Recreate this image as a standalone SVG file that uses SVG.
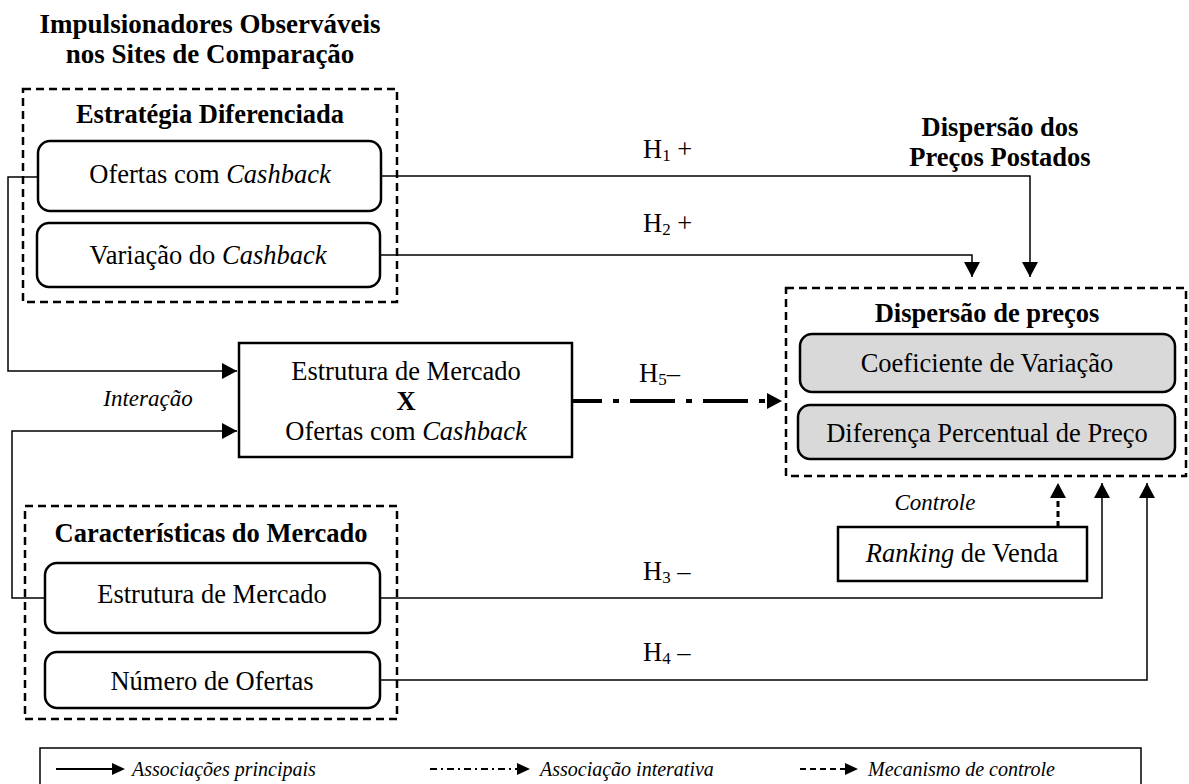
<svg xmlns="http://www.w3.org/2000/svg" width="1189" height="784" viewBox="0 0 1189 784">
<style>
text{font-family:"Liberation Serif","Times New Roman",serif;fill:#000}
.t{font-size:26.5px}
.b{font-weight:bold}
.i{font-style:italic}
.c{text-anchor:middle}
.lab{font-size:23px;font-style:italic}
.leg{font-size:20px;font-style:italic}
.grp{fill:none;stroke:#000;stroke-width:2.5;stroke-dasharray:8 5}
.rr{fill:#fff;stroke:#000;stroke-width:2.5}
.gray{fill:#d9d9d9;stroke:#000;stroke-width:2.5}
.sq{fill:#fff;stroke:#000;stroke-width:2.5}
.ln{fill:none;stroke:#000;stroke-width:1.5}
.dd{fill:none;stroke:#000;stroke-width:4;stroke-dasharray:45 11 6 11;stroke-dashoffset:15}
.dsh{fill:none;stroke:#000;stroke-width:3;stroke-dasharray:6 4}
</style>
<defs>
<marker id="ah" markerUnits="userSpaceOnUse" markerWidth="15" markerHeight="16" refX="15" refY="8" orient="auto"><path d="M0,0 L15,8 L0,16 z" fill="#000"/></marker>
<marker id="ahb" markerUnits="userSpaceOnUse" markerWidth="15" markerHeight="16" refX="0" refY="8" orient="auto"><path d="M0,0 L15,8 L0,16 z" fill="#000"/></marker>
<marker id="ahs" markerUnits="userSpaceOnUse" markerWidth="13" markerHeight="12" refX="0" refY="6" orient="auto"><path d="M0,0 L13,6 L0,12 z" fill="#000"/></marker>
</defs>

<g id="titulo">
<text class="t b c" x="210" y="33" style="font-size:27px">Impulsionadores Observáveis</text>
<text class="t b c" x="210" y="63" style="font-size:27px">nos Sites de Comparação</text>
</g>

<g id="titulo-dispersao">
<text class="t b c" x="1000" y="136">Dispersão dos</text>
<text class="t b c" x="1000" y="166">Preços Postados</text>
</g>

<g id="connectors">
<path class="ln" d="M381,176 H1030 V277" marker-end="url(#ah)"/>
<path class="ln" d="M380,255 H972 V277" marker-end="url(#ah)"/>
<path class="ln" d="M39,177 H8 V371 H237" marker-end="url(#ah)"/>
<path class="ln" d="M45,598 H12 V431 H237" marker-end="url(#ah)"/>
<path class="ln" d="M380,598 H1102 V483" marker-end="url(#ah)"/>
<path class="ln" d="M380,680 H1147 V483" marker-end="url(#ah)"/>
<path class="dd" d="M572,401 H767" marker-end="url(#ahb)"/>
<path class="dsh" d="M1058,527 V498" marker-end="url(#ahb)"/>
<text class="t" x="643" y="158">H<tspan dy="3" style="font-size:17px">1</tspan><tspan dy="-3"> +</tspan></text>
<text class="t" x="643" y="232">H<tspan dy="3" style="font-size:17px">2</tspan><tspan dy="-3"> +</tspan></text>
<text class="t" x="639" y="382">H<tspan dy="3" style="font-size:17px">5</tspan><tspan dy="-3">–</tspan></text>
<text class="t" x="643" y="580">H<tspan dy="3" style="font-size:17px">3</tspan><tspan dy="-3"> –</tspan></text>
<text class="t" x="643" y="661">H<tspan dy="3" style="font-size:17px">4</tspan><tspan dy="-3"> –</tspan></text>
<text class="lab c" x="148" y="406">Interação</text>
<text class="lab c" x="935" y="510">Controle</text>
</g>

<g id="estrategia-diferenciada">
<rect class="grp" x="23" y="89" width="374" height="213"/>
<text class="t b c" x="210" y="123">Estratégia Diferenciada</text>
</g>
<g id="ofertas-cashback">
<rect class="rr" x="38" y="141" width="343" height="70" rx="12"/>
<text class="t c" x="210" y="183">Ofertas com <tspan class="i">Cashback</tspan></text>
</g>
<g id="variacao-cashback">
<rect class="rr" x="37" y="223" width="343" height="64" rx="12"/>
<text class="t c" x="208" y="264">Variação do <tspan class="i">Cashback</tspan></text>
</g>

<g id="interacao">
<rect class="sq" x="239" y="343" width="333" height="114"/>
<text class="t c" x="406" y="380">Estrutura de Mercado</text>
<text class="t b c" x="406" y="410">X</text>
<text class="t c" x="406" y="440">Ofertas com <tspan class="i">Cashback</tspan></text>
</g>

<g id="caracteristicas-mercado">
<rect class="grp" x="25" y="506" width="372" height="213"/>
<text class="t b c" x="211" y="542">Características do Mercado</text>
</g>
<g id="estrutura-mercado">
<rect class="rr" x="45" y="563" width="335" height="70" rx="12"/>
<text class="t c" x="212" y="603">Estrutura de Mercado</text>
</g>
<g id="numero-ofertas">
<rect class="rr" x="45" y="652" width="335" height="56" rx="12"/>
<text class="t c" x="212" y="690">Número de Ofertas</text>
</g>

<g id="dispersao-precos">
<rect class="grp" x="786" y="288" width="400" height="188"/>
<text class="t b c" x="987" y="322">Dispersão de preços</text>
</g>
<g id="coeficiente-variacao">
<rect class="gray" x="800" y="334" width="375" height="58" rx="12"/>
<text class="t c" x="987" y="372">Coeficiente de Variação</text>
</g>
<g id="diferenca-percentual">
<rect class="gray" x="798" y="405" width="377" height="54" rx="12"/>
<text class="t c" x="987" y="442">Diferença Percentual de Preço</text>
</g>

<g id="ranking-venda">
<rect class="sq" x="838" y="527" width="249" height="54"/>
<text class="t c" x="962" y="562"><tspan class="i">Ranking</tspan> de Venda</text>
</g>

<g id="legenda">
<rect x="40" y="748" width="1101" height="50" fill="none" stroke="#000" stroke-width="1.5"/>
<path d="M56,769 H112" fill="none" stroke="#000" stroke-width="2" marker-end="url(#ahs)"/>
<text class="leg" x="132" y="776">Associações principais</text>
<path d="M430,769 H517" fill="none" stroke="#000" stroke-width="2" stroke-dasharray="7 4 2 4" marker-end="url(#ahs)"/>
<text class="leg" x="540" y="776">Associação interativa</text>
<path d="M800,769 H845" fill="none" stroke="#000" stroke-width="2" stroke-dasharray="6 4" marker-end="url(#ahs)"/>
<text class="leg" x="868" y="776">Mecanismo de controle</text>
</g>
</svg>
